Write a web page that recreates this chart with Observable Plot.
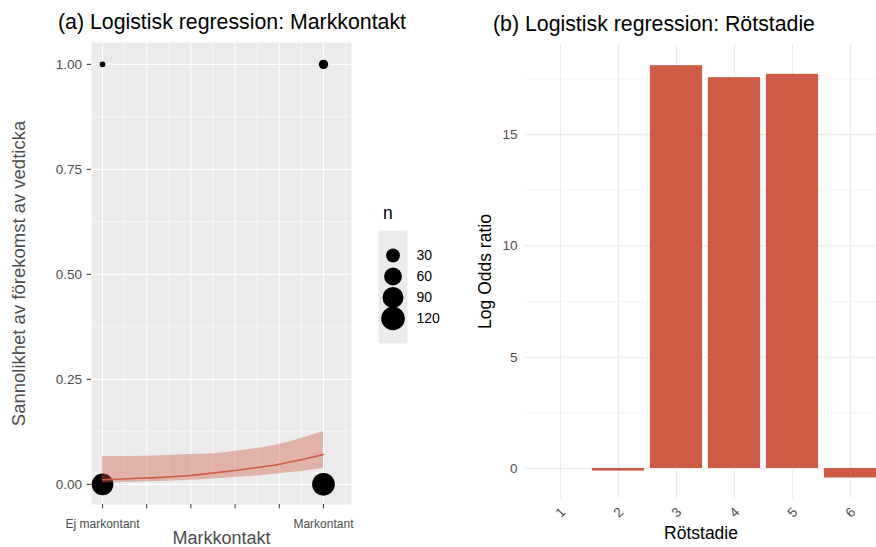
<!DOCTYPE html>
<html>
<head>
<meta charset="utf-8">
<script src="https://cdn.jsdelivr.net/npm/d3@7"></script>
<script src="https://cdn.jsdelivr.net/npm/@observablehq/plot@0.6"></script>
<style>
  html, body { margin: 0; padding: 0; background: #fff; overflow: hidden; }
  #chart { position: relative; width: 876px; height: 547px; overflow: hidden;
           font-family: "Liberation Sans", Arial, sans-serif; }
  #chart > * { position: absolute; }
  .title { font-size: 21.3px; line-height: 21px; color: #000; white-space: nowrap; }
  .legend-title { font-size: 17.5px; line-height: 17.5px; color: #000; white-space: nowrap; }
</style>
</head>
<body>
<div id="chart"></div>
<script>
// ---- Panel (a): vedticka vs markkontakt ----
const markkontaktTicks = [0, 0.2, 0.4, 0.6, 0.8, 1];
const markkontaktTickLabels = ["Ej markontant", "", "", "", "", "Markontant"];
const markkontaktMinor = [0.1, 0.3, 0.5, 0.7, 0.9, 1.1];
const probTicks = [0, 0.25, 0.5, 0.75, 1];
const probMinor = [0.125, 0.375, 0.625, 0.875];

// observed combinations and their counts
const obsMarkkontakt = [0, 0, 1, 1];
const obsVedticka = [0, 1, 0, 1];
const obsCount = [98, 1, 109, 9];

// fitted probability with confidence band
const fitMarkkontakt = [0, 0.2, 0.4, 0.5, 0.6, 0.8, 1];
const fitProb = [0.011, 0.015, 0.021, 0.027, 0.033, 0.048, 0.071];
const fitLower = [0.003, 0.006, 0.010, 0.013, 0.016, 0.025, 0.038];
const fitUpper = [0.066, 0.067, 0.071, 0.073, 0.079, 0.095, 0.126];

const sizeBreaks = [30, 60, 90, 120];

// ---- Panel (b): log odds ratio per rötstadie ----
const rotstadie = ["1", "2", "3", "4", "5", "6"];
const logOddsRatio = [0, -0.12, 18.1, 17.56, 17.71, -0.43];
const logOddsTicks = [0, 5, 10, 15];
const logOddsMinor = [2.5, 7.5, 12.5, 17.5];

const coral = "#CD5B45";
const font = "Liberation Sans, Arial, sans-serif";
const sizeScale = {type: "sqrt", domain: [0, 120], range: [2, 11.8]};

const obs = obsCount.map((n, i) => ({x: obsMarkkontakt[i], y: obsVedticka[i], n}));
const fit = fitMarkkontakt.map((x, i) => ({x, p: fitProb[i], lo: fitLower[i], hi: fitUpper[i]}));
const bars = rotstadie.map((s, i) => ({s, v: logOddsRatio[i]}));

const panelA = Plot.plot({
  width: 360, height: 547,
  marginLeft: 91, marginRight: 9, marginTop: 42, marginBottom: 43,
  style: {fontFamily: font, background: "transparent", overflow: "visible"},
  x: {domain: [-0.05, 1.127], axis: null},
  y: {domain: [-0.048, 1.052], axis: null},
  r: sizeScale,
  marks: [
    Plot.frame({fill: "#EBEBEB", stroke: null}),
    Plot.gridX(markkontaktMinor, {stroke: "#fff", strokeOpacity: 1, strokeWidth: 0.55}),
    Plot.gridY(probMinor, {stroke: "#fff", strokeOpacity: 1, strokeWidth: 0.55}),
    Plot.gridX(markkontaktTicks, {stroke: "#fff", strokeOpacity: 1, strokeWidth: 1.1}),
    Plot.gridY(probTicks, {stroke: "#fff", strokeOpacity: 1, strokeWidth: 1.1}),
    Plot.dot(obs, {x: "x", y: "y", r: "n", fill: "#000", stroke: null}),
    Plot.areaY(fit, {x: "x", y1: "lo", y2: "hi", fill: coral, fillOpacity: 0.4, curve: "monotone-x"}),
    Plot.lineY(fit, {x: "x", y: "p", stroke: coral, strokeWidth: 1.6, curve: "monotone-x"}),
    Plot.axisY(probTicks, {tickSize: 4.4, tickPadding: 5, stroke: "#333", fill: "#4d4d4d", fontSize: 13.5,
      tickFormat: d3.format(".2f"), label: null}),
    Plot.axisX(markkontaktTicks, {tickSize: 4.4, tickPadding: 10.6, stroke: "#333", fill: "#4d4d4d", fontSize: 12,
      tickFormat: d => markkontaktTickLabels[markkontaktTicks.indexOf(d)], label: null}),
    Plot.text(["Sannolikhet av förekomst av vedticka"], {frameAnchor: "left", dx: -72.5, rotate: -90,
      textAnchor: "middle", lineAnchor: "middle", fontSize: 18.5, fill: "#4d4d4d"}),
    Plot.text(["Markkontakt"], {frameAnchor: "bottom", dy: 39.5, textAnchor: "middle", lineAnchor: "bottom",
      fontSize: 18, fill: "#4d4d4d"})
  ]
});

const legend = Plot.plot({
  width: 70, height: 113,
  marginLeft: 0, marginRight: 41, marginTop: 0, marginBottom: 0,
  style: {fontFamily: font, background: "transparent", overflow: "visible"},
  y: {type: "point", domain: sizeBreaks, range: [14, 98], axis: null},
  r: sizeScale,
  marks: [
    Plot.frame({fill: "#EBEBEB", stroke: null}),
    Plot.dot(sizeBreaks, {y: d => d, r: d => d, frameAnchor: "left", dx: 14.5, fill: "#000", stroke: null}),
    Plot.text(sizeBreaks, {y: d => d, text: d => String(d), frameAnchor: "left", dx: 38,
      textAnchor: "start", fontSize: 14, fill: "#000"})
  ]
});

const panelB = Plot.plot({
  width: 416, height: 547,
  marginLeft: 65, marginRight: 0, marginTop: 44, marginBottom: 49,
  style: {fontFamily: font, background: "transparent", overflow: "hidden"},
  x: {type: "band", domain: rotstadie, range: [68.1, 421.9], padding: 0.1, round: false, axis: null},
  y: {domain: [-1.35, 19.05], axis: null},
  marks: [
    Plot.gridY(logOddsMinor, {stroke: "#EBEBEB", strokeOpacity: 1, strokeWidth: 0.55}),
    Plot.gridY(logOddsTicks, {stroke: "#EBEBEB", strokeOpacity: 1, strokeWidth: 1.1}),
    Plot.gridX(rotstadie, {stroke: "#EBEBEB", strokeOpacity: 1, strokeWidth: 1.1}),
    Plot.barY(bars, {x: "s", y: "v", fill: coral}),
    Plot.axisY(logOddsTicks, {tickSize: 0, tickPadding: 8, fill: "#4d4d4d", fontSize: 13.5, label: null}),
    Plot.text(rotstadie, {x: d => d, frameAnchor: "bottom", dy: 14, rotate: -45, textAnchor: "middle",
      lineAnchor: "middle", fontSize: 13.5, fill: "#4d4d4d"}),
    Plot.text(["Log Odds ratio"], {frameAnchor: "left", dx: -40, rotate: -90, textAnchor: "middle",
      lineAnchor: "middle", fontSize: 17.5, fill: "#000"}),
    Plot.text(["Rötstadie"], {frameAnchor: "bottom", dy: 40, textAnchor: "middle", lineAnchor: "bottom",
      fontSize: 17.5, fill: "#000"})
  ]
});

const chart = document.getElementById("chart");
function place(el, left, top) {
  el.style.left = left + "px";
  el.style.top = top + "px";
  chart.appendChild(el);
}
function label(text, cls, left, top) {
  const d = document.createElement("div");
  d.className = cls;
  d.textContent = text;
  place(d, left, top);
}

place(panelA, 0, 0);
place(legend, 378, 230);
place(panelB, 460, 0);
label("(a) Logistisk regression: Markkontakt", "title", 58, 12);
label("(b) Logistisk regression: Rötstadie", "title", 493, 14);
label("n", "legend-title", 383, 205);
</script>
</body>
</html>
